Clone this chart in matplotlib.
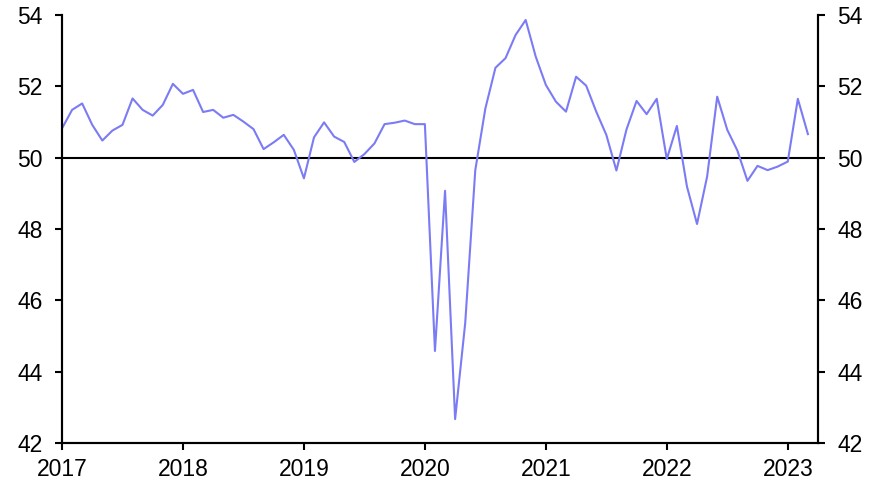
import matplotlib
matplotlib.use("Agg")
import matplotlib.pyplot as plt
import numpy as np

# monthly index, Jan 2017 - Mar 2023
values = [
    50.82, 51.34, 51.52, 50.92, 50.48, 50.76, 50.92, 51.66, 51.34, 51.18, 51.48, 52.07,  # 2017
    51.79, 51.90, 51.28, 51.34, 51.12, 51.20, 51.01, 50.80, 50.24, 50.43, 50.64, 50.22,  # 2018
    49.42, 50.57, 50.99, 50.59, 50.44, 49.88, 50.10, 50.40, 50.94, 50.98, 51.04, 50.94,  # 2019
    50.94, 44.58, 49.07, 42.67, 45.36, 49.65, 51.38, 52.52, 52.79, 53.44, 53.86, 52.83,  # 2020
    52.04, 51.57, 51.29, 52.27, 52.02, 51.29, 50.64, 49.64, 50.79, 51.59, 51.22, 51.65,  # 2021
    49.96, 50.89, 49.19, 48.14, 49.47, 51.71, 50.78, 50.20, 49.35, 49.77, 49.65, 49.75,  # 2022
    49.89, 51.65, 50.66,                                                                 # 2023
]
start_year = 2017
years = [2017, 2018, 2019, 2020, 2021, 2022, 2023]
yticks = [42, 44, 46, 48, 50, 52, 54]

x = start_year + np.arange(len(values)) / 12.0

plt.rcParams['font.family'] = ['Liberation Sans', 'DejaVu Sans']
plt.rcParams['font.size'] = 16.5

fig = plt.figure(figsize=(8.82, 4.95), dpi=100)
ax = fig.add_axes([62 / 882, 1 - 443 / 495, (818 - 62) / 882, (443 - 15) / 495])

ax.axhline(50, color='black', lw=1.5, zorder=1)
ax.plot(x, values, color='#7b7bf5', lw=1.5, zorder=2)

ax.set_xlim(2017, 2023.25)
ax.set_ylim(42, 54)
ax.set_xticks(years)
ax.set_xticklabels([str(y) for y in years])
ax.set_yticks(yticks)

ax2 = ax.twinx()
ax2.set_ylim(42, 54)
ax2.set_yticks(yticks)

for a in (ax, ax2):
    a.spines['top'].set_visible(False)
    for s in ('left', 'right', 'bottom'):
        a.spines[s].set_linewidth(1.5)
    a.tick_params(direction='out', length=5, width=1.5, colors='black')
ax.tick_params(axis='x', pad=6)
ax.tick_params(axis='y', pad=9)
ax2.tick_params(axis='y', pad=9)

fig.savefig("out.png", dpi=100)
